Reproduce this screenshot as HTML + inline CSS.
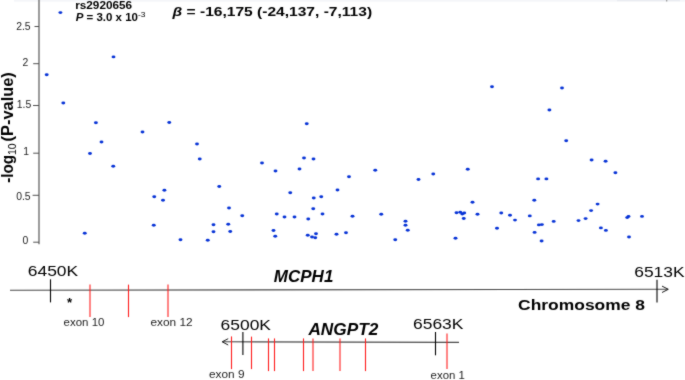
<!DOCTYPE html>
<html><head><meta charset="utf-8"><title>Association plot</title>
<style>
html,body{margin:0;padding:0;background:#fff;}
body{width:685px;height:380px;overflow:hidden;}
svg{display:block;font-family:"Liberation Sans",sans-serif;}
</style></head><body>
<svg width="685" height="380" viewBox="0 0 685 380">
<defs><filter id="soft" x="0" y="0" width="685" height="380" filterUnits="userSpaceOnUse" color-interpolation-filters="sRGB"><feConvolveMatrix order="3" kernelMatrix="1 3 1 3 24 3 1 3 1" divisor="40" edgeMode="duplicate" preserveAlpha="false"/></filter></defs>
<g filter="url(#soft)">
<rect width="685" height="380" fill="#fff"/>
<rect x="14" y="0" width="671" height="1.6" fill="#f4f5f9"/>
<rect x="617" y="0" width="63" height="1.2" fill="#eaecf1"/>
<rect x="666" y="0" width="1.3" height="1.5" fill="#a0a0a0"/>
<line x1="39" y1="0" x2="39" y2="244.2" stroke="#808080" stroke-width="1.6"/>
<line x1="34.5" y1="26.5" x2="39" y2="26.5" stroke="#505050" stroke-width="1"/>
<text x="16.2" y="30" font-size="10.4" fill="#222">2.5</text>
<line x1="33.2" y1="63.7" x2="39" y2="63.7" stroke="#505050" stroke-width="1"/>
<text x="22.4" y="65.8" font-size="10.4" fill="#222">2</text>
<line x1="33" y1="105.5" x2="39" y2="105.5" stroke="#505050" stroke-width="1"/>
<text x="16.8" y="107.9" font-size="10.4" fill="#222">1.5</text>
<line x1="33.2" y1="153.2" x2="39" y2="153.2" stroke="#505050" stroke-width="1"/>
<text x="23.2" y="155" font-size="10.4" fill="#222">1</text>
<line x1="32.6" y1="195.3" x2="39" y2="195.3" stroke="#505050" stroke-width="1"/>
<text x="16.2" y="200" font-size="10.4" fill="#222">0.5</text>
<line x1="33.2" y1="242.2" x2="39" y2="242.2" stroke="#505050" stroke-width="1"/>
<text x="22.5" y="244.2" font-size="10.4" fill="#222">0</text>

<g fill="#0632d6">
<ellipse cx="60.40" cy="12.60" rx="1.95" ry="1.45"/>
<ellipse cx="46.70" cy="74.70" rx="1.95" ry="1.45"/>
<ellipse cx="113.50" cy="56.90" rx="1.95" ry="1.45"/>
<ellipse cx="63.30" cy="103.00" rx="1.95" ry="1.45"/>
<ellipse cx="95.90" cy="122.80" rx="1.95" ry="1.45"/>
<ellipse cx="101.50" cy="142.00" rx="1.95" ry="1.45"/>
<ellipse cx="90.00" cy="153.50" rx="1.95" ry="1.45"/>
<ellipse cx="142.50" cy="132.00" rx="1.95" ry="1.45"/>
<ellipse cx="169.25" cy="122.50" rx="1.95" ry="1.45"/>
<ellipse cx="113.25" cy="166.25" rx="1.95" ry="1.45"/>
<ellipse cx="164.40" cy="190.30" rx="1.95" ry="1.45"/>
<ellipse cx="84.75" cy="233.25" rx="1.95" ry="1.45"/>
<ellipse cx="153.75" cy="225.25" rx="1.95" ry="1.45"/>
<ellipse cx="154.25" cy="196.75" rx="1.95" ry="1.45"/>
<ellipse cx="163.00" cy="200.25" rx="1.95" ry="1.45"/>
<ellipse cx="197.00" cy="144.00" rx="1.95" ry="1.45"/>
<ellipse cx="199.75" cy="159.00" rx="1.95" ry="1.45"/>
<ellipse cx="219.25" cy="186.50" rx="1.95" ry="1.45"/>
<ellipse cx="262.00" cy="163.00" rx="1.95" ry="1.45"/>
<ellipse cx="275.50" cy="171.00" rx="1.95" ry="1.45"/>
<ellipse cx="299.50" cy="169.00" rx="1.95" ry="1.45"/>
<ellipse cx="304.00" cy="158.00" rx="1.95" ry="1.45"/>
<ellipse cx="313.50" cy="159.00" rx="1.95" ry="1.45"/>
<ellipse cx="306.75" cy="123.75" rx="1.95" ry="1.45"/>
<ellipse cx="337.50" cy="190.00" rx="1.95" ry="1.45"/>
<ellipse cx="180.50" cy="239.75" rx="1.95" ry="1.45"/>
<ellipse cx="207.75" cy="240.25" rx="1.95" ry="1.45"/>
<ellipse cx="213.50" cy="224.75" rx="1.95" ry="1.45"/>
<ellipse cx="213.50" cy="231.75" rx="1.95" ry="1.45"/>
<ellipse cx="228.25" cy="224.25" rx="1.95" ry="1.45"/>
<ellipse cx="230.25" cy="231.50" rx="1.95" ry="1.45"/>
<ellipse cx="229.00" cy="208.00" rx="1.95" ry="1.45"/>
<ellipse cx="242.25" cy="215.75" rx="1.95" ry="1.45"/>
<ellipse cx="273.50" cy="230.50" rx="1.95" ry="1.45"/>
<ellipse cx="275.25" cy="236.25" rx="1.95" ry="1.45"/>
<ellipse cx="276.75" cy="214.00" rx="1.95" ry="1.45"/>
<ellipse cx="284.50" cy="217.00" rx="1.95" ry="1.45"/>
<ellipse cx="294.50" cy="217.00" rx="1.95" ry="1.45"/>
<ellipse cx="290.25" cy="192.75" rx="1.95" ry="1.45"/>
<ellipse cx="308.25" cy="219.00" rx="1.95" ry="1.45"/>
<ellipse cx="313.25" cy="208.75" rx="1.95" ry="1.45"/>
<ellipse cx="313.75" cy="198.00" rx="1.95" ry="1.45"/>
<ellipse cx="321.25" cy="196.75" rx="1.95" ry="1.45"/>
<ellipse cx="322.50" cy="214.00" rx="1.95" ry="1.45"/>
<ellipse cx="307.75" cy="235.25" rx="1.95" ry="1.45"/>
<ellipse cx="312.00" cy="237.00" rx="1.95" ry="1.45"/>
<ellipse cx="315.25" cy="237.75" rx="1.95" ry="1.45"/>
<ellipse cx="316.00" cy="233.75" rx="1.95" ry="1.45"/>
<ellipse cx="336.50" cy="234.25" rx="1.95" ry="1.45"/>
<ellipse cx="349.00" cy="176.75" rx="1.95" ry="1.45"/>
<ellipse cx="375.25" cy="170.25" rx="1.95" ry="1.45"/>
<ellipse cx="418.50" cy="179.50" rx="1.95" ry="1.45"/>
<ellipse cx="433.25" cy="174.00" rx="1.95" ry="1.45"/>
<ellipse cx="467.75" cy="169.25" rx="1.95" ry="1.45"/>
<ellipse cx="492.00" cy="86.75" rx="1.95" ry="1.45"/>
<ellipse cx="352.50" cy="216.25" rx="1.95" ry="1.45"/>
<ellipse cx="346.00" cy="232.75" rx="1.95" ry="1.45"/>
<ellipse cx="381.25" cy="214.25" rx="1.95" ry="1.45"/>
<ellipse cx="395.25" cy="239.75" rx="1.95" ry="1.45"/>
<ellipse cx="405.50" cy="221.25" rx="1.95" ry="1.45"/>
<ellipse cx="405.50" cy="225.25" rx="1.95" ry="1.45"/>
<ellipse cx="407.75" cy="230.25" rx="1.95" ry="1.45"/>
<ellipse cx="455.50" cy="238.25" rx="1.95" ry="1.45"/>
<ellipse cx="456.50" cy="212.75" rx="1.95" ry="1.45"/>
<ellipse cx="460.25" cy="212.25" rx="1.95" ry="1.45"/>
<ellipse cx="462.25" cy="214.00" rx="1.95" ry="1.45"/>
<ellipse cx="464.25" cy="213.00" rx="1.95" ry="1.45"/>
<ellipse cx="463.75" cy="218.50" rx="1.95" ry="1.45"/>
<ellipse cx="472.50" cy="202.25" rx="1.95" ry="1.45"/>
<ellipse cx="477.50" cy="214.25" rx="1.95" ry="1.45"/>
<ellipse cx="497.00" cy="228.25" rx="1.95" ry="1.45"/>
<ellipse cx="501.25" cy="213.00" rx="1.95" ry="1.45"/>
<ellipse cx="510.00" cy="215.25" rx="1.95" ry="1.45"/>
<ellipse cx="562.00" cy="88.00" rx="1.95" ry="1.45"/>
<ellipse cx="549.40" cy="110.00" rx="1.95" ry="1.45"/>
<ellipse cx="566.20" cy="140.70" rx="1.95" ry="1.45"/>
<ellipse cx="591.60" cy="160.00" rx="1.95" ry="1.45"/>
<ellipse cx="605.60" cy="161.30" rx="1.95" ry="1.45"/>
<ellipse cx="615.40" cy="172.80" rx="1.95" ry="1.45"/>
<ellipse cx="538.10" cy="178.90" rx="1.95" ry="1.45"/>
<ellipse cx="546.40" cy="178.90" rx="1.95" ry="1.45"/>
<ellipse cx="515.00" cy="220.10" rx="1.95" ry="1.45"/>
<ellipse cx="529.80" cy="215.90" rx="1.95" ry="1.45"/>
<ellipse cx="534.30" cy="200.30" rx="1.95" ry="1.45"/>
<ellipse cx="538.90" cy="224.90" rx="1.95" ry="1.45"/>
<ellipse cx="541.90" cy="224.60" rx="1.95" ry="1.45"/>
<ellipse cx="534.60" cy="232.40" rx="1.95" ry="1.45"/>
<ellipse cx="541.60" cy="241.00" rx="1.95" ry="1.45"/>
<ellipse cx="553.70" cy="221.40" rx="1.95" ry="1.45"/>
<ellipse cx="578.50" cy="220.60" rx="1.95" ry="1.45"/>
<ellipse cx="585.60" cy="218.60" rx="1.95" ry="1.45"/>
<ellipse cx="591.10" cy="210.60" rx="1.95" ry="1.45"/>
<ellipse cx="597.60" cy="204.10" rx="1.95" ry="1.45"/>
<ellipse cx="600.90" cy="227.90" rx="1.95" ry="1.45"/>
<ellipse cx="605.90" cy="230.40" rx="1.95" ry="1.45"/>
<ellipse cx="627.20" cy="217.60" rx="1.95" ry="1.45"/>
<ellipse cx="628.50" cy="216.40" rx="1.95" ry="1.45"/>
<ellipse cx="642.00" cy="216.40" rx="1.95" ry="1.45"/>
<ellipse cx="629.00" cy="237.00" rx="1.95" ry="1.45"/>
</g>
<line x1="10" y1="290.2" x2="668" y2="289.3" stroke="#4a4a4a" stroke-width="1.1"/>
<polyline points="662,286.1 668.3,289.3 662,292.5" fill="none" stroke="#1a1a1a" stroke-width="1"/>
<line x1="50.5" y1="279.3" x2="50.5" y2="302.4" stroke="#000" stroke-width="1.1"/>
<line x1="657" y1="279.7" x2="657" y2="302.4" stroke="#000" stroke-width="1.1"/>
<line x1="222.4" y1="341.8" x2="459" y2="342.4" stroke="#4a4a4a" stroke-width="1.1"/>
<polyline points="228.2,338.7 222.2,341.8 228.2,345" fill="none" stroke="#1a1a1a" stroke-width="1"/>
<line x1="242.9" y1="332.1" x2="242.9" y2="354.9" stroke="#000" stroke-width="1.1"/>
<line x1="435.5" y1="332" x2="435.5" y2="355.3" stroke="#000" stroke-width="1.1"/>
<line x1="90.0" y1="284.6" x2="90.0" y2="317.1" stroke="#ff1c1c" stroke-width="1.1"/>
<line x1="128.5" y1="284.6" x2="128.5" y2="317.1" stroke="#ff1c1c" stroke-width="1.1"/>
<line x1="168.0" y1="284.6" x2="168.0" y2="317.1" stroke="#ff1c1c" stroke-width="1.1"/>
<line x1="231.5" y1="336.4" x2="231.5" y2="369.1" stroke="#ff1c1c" stroke-width="1.1"/>
<line x1="251.5" y1="336.6" x2="251.5" y2="369.1" stroke="#ff1c1c" stroke-width="1.1"/>
<line x1="268.5" y1="338.4" x2="268.5" y2="371.1" stroke="#ff1c1c" stroke-width="1.1"/>
<line x1="274.5" y1="338.4" x2="274.5" y2="371.1" stroke="#ff1c1c" stroke-width="1.1"/>
<line x1="303.5" y1="338.4" x2="303.5" y2="371.1" stroke="#ff1c1c" stroke-width="1.1"/>
<line x1="313.0" y1="338.4" x2="313.0" y2="371.1" stroke="#ff1c1c" stroke-width="1.1"/>
<line x1="340.0" y1="338.4" x2="340.0" y2="371.1" stroke="#ff1c1c" stroke-width="1.1"/>
<line x1="365.5" y1="338.4" x2="365.5" y2="371.1" stroke="#ff1c1c" stroke-width="1.1"/>
<line x1="447.0" y1="333.5" x2="447.0" y2="368.9" stroke="#ff1c1c" stroke-width="1.1"/>

<text transform="translate(75.2,8.6) scale(1.155,1)" font-size="10.2" font-weight="bold" font-style="normal" fill="#000" text-anchor="start">rs2920656</text>
<text transform="translate(75.7,21.4) scale(1.075,1)" font-size="10.7" font-weight="bold" font-style="normal" fill="#000" text-anchor="start"><tspan font-style="italic">P</tspan> = 3.0 x 10<tspan font-size="7.8" dy="-4.1" font-weight="normal">-3</tspan></text>
<text transform="translate(172.6,16) scale(1.17,1)" font-size="13.3" font-weight="bold" font-style="normal" fill="#000" text-anchor="start"><tspan font-style="italic">β</tspan> = -16,175 (-24,137, -7,113)</text>
<text transform="translate(27.8,276) scale(1.14,1)" font-size="15.3" font-weight="normal" font-style="normal" fill="#000" text-anchor="start">6450K</text>
<text transform="translate(634.2,276.6) scale(1.14,1)" font-size="15.3" font-weight="normal" font-style="normal" fill="#000" text-anchor="start">6513K</text>
<text transform="translate(220.6,330) scale(1.14,1)" font-size="15.3" font-weight="normal" font-style="normal" fill="#000" text-anchor="start">6500K</text>
<text transform="translate(413.0,329.4) scale(1.14,1)" font-size="15.3" font-weight="normal" font-style="normal" fill="#000" text-anchor="start">6563K</text>
<text transform="translate(273.8,281.9) scale(1.078,1)" font-size="15.8" font-weight="bold" font-style="italic" fill="#000" text-anchor="start">MCPH1</text>
<text transform="translate(308.4,334.9) scale(1.078,1)" font-size="16.0" font-weight="bold" font-style="italic" fill="#000" text-anchor="start">ANGPT2</text>
<text transform="translate(518.1,310.0) scale(1.125,1)" font-size="15.5" font-weight="bold" font-style="normal" fill="#000" text-anchor="start">Chromosome 8</text>
<text transform="translate(63.6,326.4) scale(1.065,1)" font-size="10.8" font-weight="normal" font-style="normal" fill="#1c1c1c" text-anchor="start">exon 10</text>
<text transform="translate(150.4,326.4) scale(1.1,1)" font-size="10.8" font-weight="normal" font-style="normal" fill="#1c1c1c" text-anchor="start">exon 12</text>
<text transform="translate(209.0,378.0) scale(1.15,1)" font-size="10.3" font-weight="normal" font-style="normal" fill="#1c1c1c" text-anchor="start">exon 9</text>
<text transform="translate(430.6,378.7) scale(1.11,1)" font-size="10.3" font-weight="normal" font-style="normal" fill="#1c1c1c" text-anchor="start">exon 1</text>
<text transform="translate(67,307.3) scale(1.1,1)" font-size="12" font-weight="bold" font-style="normal" fill="#000" text-anchor="start">*</text>
<text transform="translate(13.2,182.8) rotate(-90) scale(1,1.1)" font-size="15.2" font-weight="bold" fill="#000">-log<tspan font-size="10.5" font-weight="normal" dy="2.8">10</tspan></text>
<text transform="translate(13.2,72.2) rotate(-90) scale(1,1.05)" font-size="16.4" font-weight="bold" fill="#000" text-anchor="end">(P-value)</text>

</g>
</svg>
</body></html>
